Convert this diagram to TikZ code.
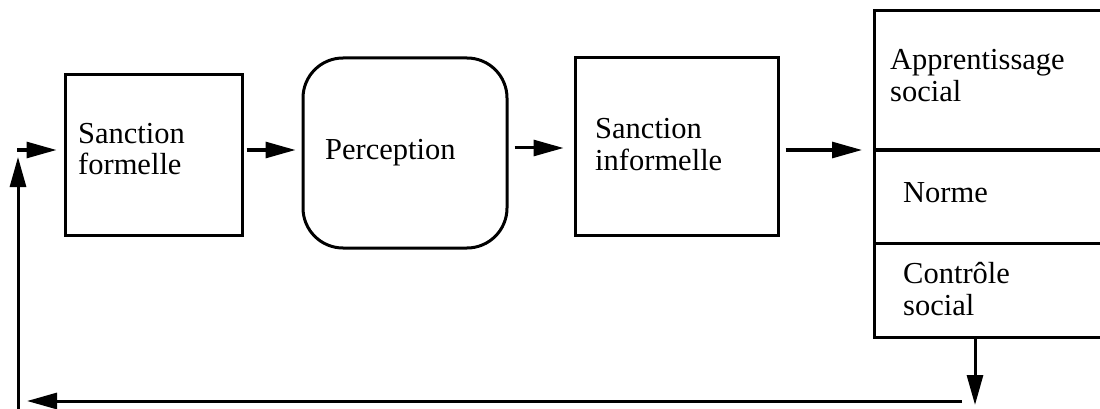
\documentclass[tikz,border=0pt]{standalone}
\usepackage{fontspec}
\setmainfont{Liberation Serif}
\usetikzlibrary{arrows.meta}
\begin{document}
\begin{tikzpicture}[x=1pt,y=-1pt,
  boxst/.style={draw,line width=3pt,inner sep=0pt,minimum width=#1},
  lbl/.style={anchor=base west,inner sep=0pt,font=\fontsize{30.5}{31}\selectfont},
  arr/.style={line width=3pt,-{Triangle[length=30pt,width=16pt]}}]
\useasboundingbox (0,0) rectangle (1100,409);
% boxes
\node[boxst=177pt,minimum height=160pt] (sf) at (153.5,155) {};
\node[boxst=204pt,minimum height=190pt,rounded corners=40pt] (perc) at (405,153) {};
\node[boxst=203pt,minimum height=177pt] (si) at (676.5,146.5) {};
\node[boxst=250pt,minimum height=327pt,anchor=north west] (rb) at (873,9) {};
\coordinate (d1) at (873,150);
\coordinate (d2) at (873,243);
\draw[line width=3pt] (d1) -- (d1 -| rb.east);
\draw[line width=3pt] (d2) -- (d2 -| rb.east);
% texts
\node[lbl] (t1) at (78,143) {Sanction};
\node[lbl] (t2) at (78,174) {formelle};
\node[lbl] (t3) at (325,159) {Perception};
\node[lbl] (t4) at (595,139) {Sanction};
\node[lbl] (t5) at (595,170) {informelle};
\node[lbl] (t6) at (890,70) {Apprentissage};
\node[lbl] (t7) at (890,102) {social};
\node[lbl] (t8) at (903,202) {Norme};
\node[lbl] (t9) at (903,283) {Contrôle};
\node[lbl] (t10) at (903,315) {social};
% connectors
\coordinate (fb0) at (17,150);
\draw[arr,shorten >=7pt] (fb0) -- (sf.west |- fb0);
\draw[arr,shorten <=3pt,shorten >=6pt] (sf.east |- fb0) -- (perc.west |- fb0);
\coordinate (y2) at (0,148);
\draw[arr,shorten <=6pt,shorten >=10pt] (perc.east |- y2) -- (si.west |- y2);
\draw[arr,shorten <=6pt,shorten >=11pt] (si.east |- fb0) -- (rb.west |- fb0);
\coordinate (dn) at (975,405);
\draw[arr] (rb.south -| dn) -- (dn);
\coordinate (br) at (962,401);
\coordinate (bl) at (27,401);
\draw[arr] (br) -- (bl);
\coordinate (vb) at (18,410);
\coordinate (vt) at (18,157);
\draw[arr] (vb) -- (vt);
\end{tikzpicture}
\end{document}
